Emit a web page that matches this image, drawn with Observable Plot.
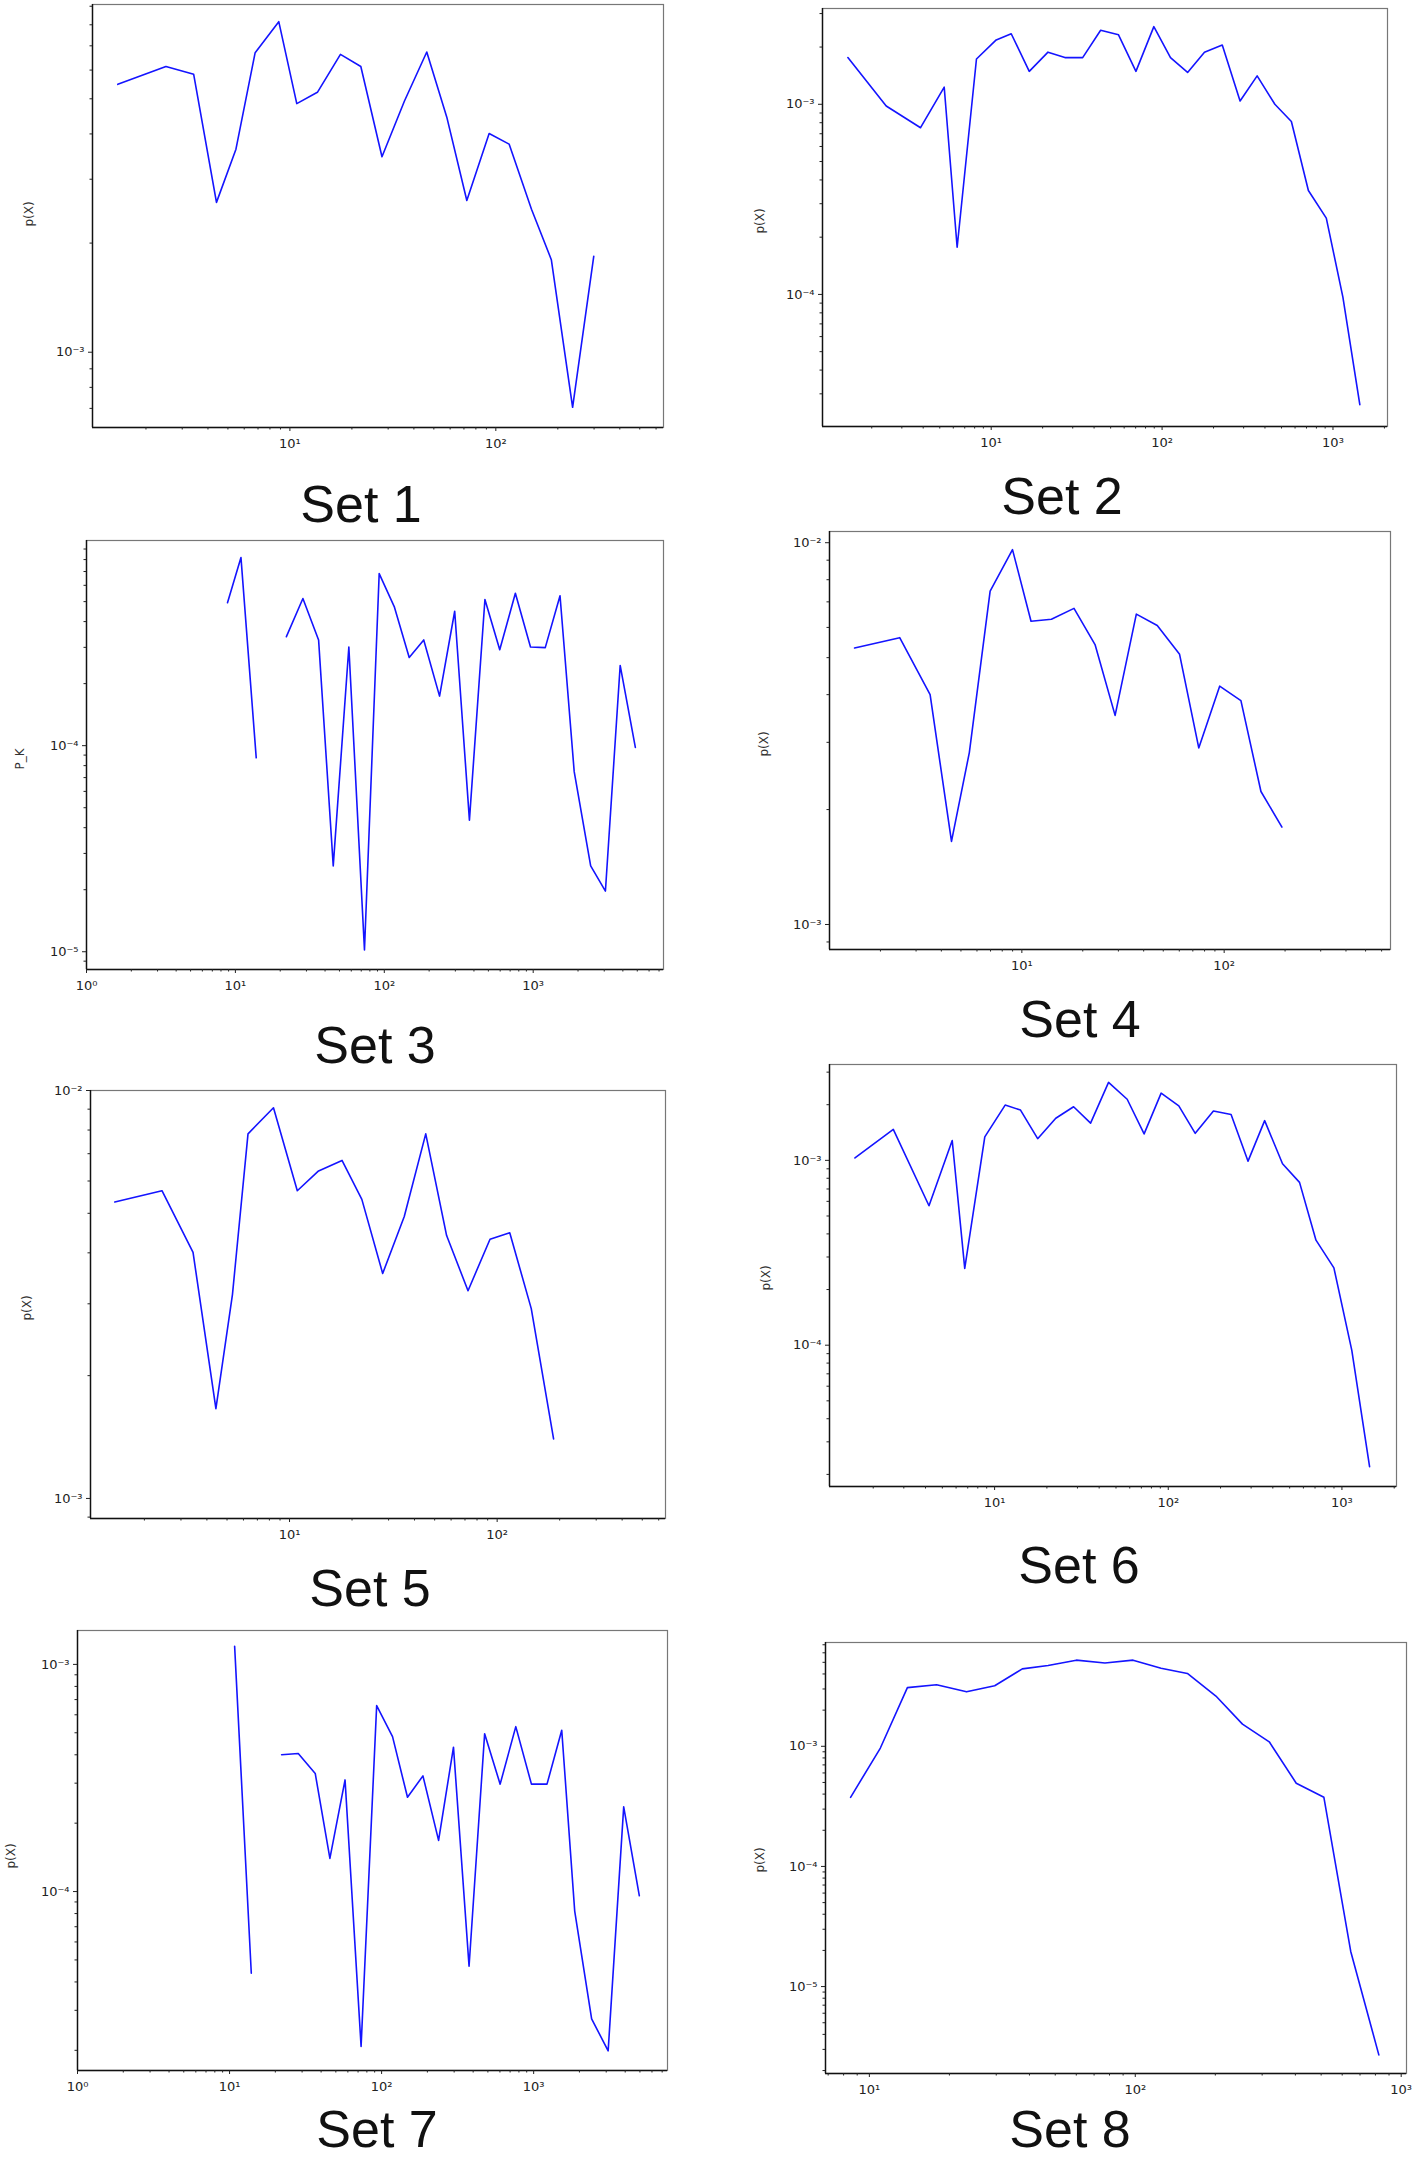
<!DOCTYPE html>
<html><head><meta charset="utf-8">
<script src="https://cdn.jsdelivr.net/npm/d3@7"></script>
<script src="https://cdn.jsdelivr.net/npm/@observablehq/plot@0.6"></script>
<style>
body{margin:0;background:#fff;}
#root{position:relative;width:1415px;height:2160px;overflow:hidden;background:#fff;}
</style></head><body><div id="root"></div>
<script>
// ---- data ----
const titles = ["Set 1","Set 2","Set 3","Set 4","Set 5","Set 6","Set 7","Set 8"];
const yLabels = ["p(X)","p(X)","P_K","p(X)","p(X)","p(X)","p(X)","p(X)"];

const set1X = [1.46,2.50,3.41,4.40,5.47,6.78,8.83,10.8,13.6,17.6,22.1,28.0,36.0,46.2,57.8,72.3,92.8,116,149,186,236,299];
const set1Y = [5.48e-3,6.14e-3,5.84e-3,2.59e-3,3.63e-3,6.70e-3,8.16e-3,4.85e-3,5.21e-3,6.63e-3,6.14e-3,3.46e-3,4.93e-3,6.73e-3,4.45e-3,2.62e-3,4.01e-3,3.75e-3,2.48e-3,1.80e-3,7.05e-4,1.84e-3];

const set2X = [1.45,2.43,3.86,5.31,6.32,8.20,10.7,13.1,16.7,21.5,27.0,34.3,43.7,55.6,70.3,89.5,112,141,177,225,286,360,457,571,718,914,1143,1436];
const set2Y = [1.76e-3,9.8e-4,7.53e-4,1.23e-3,1.77e-4,1.73e-3,2.18e-3,2.35e-3,1.49e-3,1.88e-3,1.76e-3,1.76e-3,2.45e-3,2.32e-3,1.49e-3,2.56e-3,1.76e-3,1.47e-3,1.88e-3,2.05e-3,1.04e-3,1.41e-3,1.0e-3,8.12e-4,3.52e-4,2.52e-4,9.68e-5,2.63e-5];

const set3X = [8.85,10.9,13.8,17.5,22.0,28.4,36.2,45.4,57.8,73.6,92.4,117,147,184,235,297,373,474,596,759,959,1205,1514,1885,2432,3055,3838,4853];
const set3Y = [4.94e-4,8.18e-4,8.73e-5,NaN,3.38e-4,5.18e-4,3.26e-4,2.61e-5,3.01e-4,1.02e-5,6.84e-4,4.70e-4,2.68e-4,3.26e-4,1.74e-4,4.49e-4,4.35e-5,5.12e-4,2.92e-4,5.49e-4,3.01e-4,2.99e-4,5.34e-4,7.48e-5,2.61e-5,1.97e-5,2.45e-4,9.8e-5];

const set4X = [1.49,2.49,3.52,4.49,5.50,6.97,8.99,11.1,14.0,18.1,23.0,28.9,36.8,46.7,60.2,74.9,95.0,121,152,193];
const set4Y = [5.30e-3,5.64e-3,4.00e-3,1.65e-3,2.82e-3,7.47e-3,9.59e-3,6.23e-3,6.30e-3,6.73e-3,5.41e-3,3.53e-3,6.50e-3,6.07e-3,5.10e-3,2.90e-3,4.21e-3,3.86e-3,2.23e-3,1.80e-3];

const set5X = [1.44,2.43,3.43,4.42,5.31,6.31,8.37,10.9,13.8,17.9,22.3,28.1,35.7,45.3,57.1,72.4,92.4,115,146,187];
const set5Y = [5.33e-3,5.68e-3,4.01e-3,1.66e-3,3.16e-3,7.83e-3,9.07e-3,5.68e-3,6.35e-3,6.74e-3,5.41e-3,3.56e-3,4.91e-3,7.83e-3,4.41e-3,3.23e-3,4.32e-3,4.48e-3,2.92e-3,1.40e-3];

const set6X = [1.57,2.61,4.19,5.70,6.73,8.78,11.5,14.1,17.7,22.5,28.5,35.7,45.3,58.0,72.6,91.0,115,143,182,230,288,359,455,570,709,899,1140,1443];
const set6Y = [1.03e-3,1.47e-3,5.68e-4,1.28e-3,2.60e-4,1.34e-3,1.99e-3,1.87e-3,1.31e-3,1.69e-3,1.95e-3,1.59e-3,2.64e-3,2.14e-3,1.39e-3,2.31e-3,1.97e-3,1.40e-3,1.85e-3,1.77e-3,9.9e-4,1.64e-3,9.58e-4,7.60e-4,3.70e-4,2.62e-4,9.38e-5,2.20e-5];

const set7X = [10.8,13.9,17.5,22.0,28.3,36.6,45.7,57.5,73.3,92.8,118,148,187,237,297,376,476,602,763,967,1224,1530,1862,2406,3090,3910,4955];
const set7Y = [1.20e-3,4.37e-5,NaN,4.00e-4,4.05e-4,3.31e-4,1.40e-4,3.10e-4,2.08e-5,6.59e-4,4.81e-4,2.60e-4,3.23e-4,1.68e-4,4.32e-4,4.69e-5,4.95e-4,2.97e-4,5.32e-4,2.97e-4,2.97e-4,5.13e-4,8.2e-5,2.75e-5,1.99e-5,2.36e-4,9.58e-5];

const set8X = [8.50,11.0,13.9,17.9,23.2,29.6,37.6,47.0,60.0,76.9,98.1,125,157,201,253,319,403,512,646,824];
const set8Y = [3.76e-4,9.67e-4,3.08e-3,3.25e-3,2.84e-3,3.19e-3,4.41e-3,4.71e-3,5.21e-3,4.94e-3,5.21e-3,4.47e-3,4.04e-3,2.62e-3,1.53e-3,1.09e-3,4.93e-4,3.76e-4,1.96e-5,2.70e-6];

const xsAll = [set1X,set2X,set3X,set4X,set5X,set6X,set7X,set8X];
const ysAll = [set1Y,set2Y,set3Y,set4Y,set5Y,set6Y,set7Y,set8Y];

// ---- layout (frame in page pixels, axis domains) ----
const layout = [
  {L:92,  T:4,    R:663,  B:427,  xd:[1.10,652],  yd:[6.2e-4,9.1e-3], title:[361,522],  ylab:[29,214]},
  {L:822, T:8,    R:1387, B:426,  xd:[1.03,2085], yd:[2.02e-5,3.19e-3], title:[1062,514], ylab:[760,221]},
  {L:86,  T:540,  R:663,  B:969,  xd:[1,7500],    yd:[8.2e-6,9.9e-4], title:[375,1063], ylab:[20,759]},
  {L:829, T:531,  R:1390, B:949,  xd:[1.12,664],  yd:[8.6e-4,1.07e-2], title:[1080,1037], ylab:[764,744]},
  {L:90,  T:1090, R:665,  B:1518, xd:[1.10,647],  yd:[8.93e-4,1.0e-2], title:[370,1606], ylab:[27,1308]},
  {L:829, T:1064, R:1396, B:1486, xd:[1.12,2062], yd:[1.72e-5,3.30e-3], title:[1079,1583], ylab:[766,1278]},
  {L:77,  T:1630, R:667,  B:2070, xd:[1,7590],    yd:[1.63e-5,1.41e-3], title:[377,2147], ylab:[11,1856]},
  {L:825, T:1642, R:1406, B:2073, xd:[6.84,1047], yd:[1.89e-6,7.31e-3], title:[1070,2147], ylab:[760,1860]}
];

const SUP = {"0":"⁰","1":"¹","2":"²","3":"³","4":"⁴","5":"⁵","6":"⁶","7":"⁷","8":"⁸","9":"⁹","-":"⁻"};
const fmt = d => "10" + String(Math.round(Math.log10(d))).split("").map(c => SUP[c]).join("");
function majors([lo, hi]) {
  const out = [];
  for (let e = Math.ceil(Math.log10(lo) - 1e-9); e <= Math.floor(Math.log10(hi) + 1e-9); e++) out.push(Math.pow(10, e));
  return out;
}
function minors([lo, hi]) {
  const out = [];
  for (let e = Math.floor(Math.log10(lo)); e <= Math.ceil(Math.log10(hi)); e++)
    for (let k = 2; k <= 9; k++) { const v = k * Math.pow(10, e); if (v >= lo && v <= hi) out.push(v); }
  return out;
}

const root = document.getElementById("root");
layout.forEach((p, i) => {
  const ml = 50, mr = 10, mt = Math.min(8, p.T), mb = 34;
  const data = xsAll[i].map((x, j) => ({x, y: ysAll[i][j]}));
  const axisCommon = {label: null, color: "#222", fontSize: 13};
  const chart = Plot.plot({
    width: p.R - p.L + ml + mr,
    height: p.B - p.T + mt + mb,
    marginLeft: ml, marginRight: mr, marginTop: mt, marginBottom: mb,
    x: {type: "log", domain: p.xd},
    y: {type: "log", domain: p.yd},
    style: {background: "transparent", overflow: "visible", fontFamily: "'DejaVu Sans', sans-serif"},
    marks: [
      Plot.frame({stroke: "#777", strokeWidth: 1.2}),
      Plot.ruleX([p.xd[0]], {stroke: "#111", strokeWidth: 1.4}),
      Plot.ruleY([p.yd[0]], {stroke: "#111", strokeWidth: 1.4}),
      Plot.axisX({...axisCommon, ticks: minors(p.xd), tickSize: 2.5, tickFormat: () => ""}),
      Plot.axisX({...axisCommon, ticks: majors(p.xd), tickSize: 4, tickPadding: 7, tickFormat: fmt}),
      Plot.axisY({...axisCommon, ticks: minors(p.yd), tickSize: 2.5, tickFormat: () => ""}),
      Plot.axisY({...axisCommon, ticks: majors(p.yd), tickSize: 4, tickPadding: 4, tickFormat: fmt}),
      Plot.line(data, {x: "x", y: "y", stroke: "#1414ff", strokeWidth: 1.6})
    ]
  });
  chart.style.position = "absolute";
  chart.style.left = (p.L - ml) + "px";
  chart.style.top = (p.T - mt) + "px";
  root.append(chart);
});

// titles and y-axis labels as an overlay
const overlay = d3.select(root).append("svg")
  .attr("width", 1415).attr("height", 2160)
  .style("position", "absolute").style("left", "0px").style("top", "0px")
  .style("pointer-events", "none");
layout.forEach((p, i) => {
  overlay.append("text")
    .attr("x", p.title[0]).attr("y", p.title[1])
    .attr("text-anchor", "middle")
    .attr("font-family", "'Liberation Sans', Arial, sans-serif")
    .attr("font-size", 52).attr("fill", "#111")
    .text(titles[i]);
  overlay.append("text")
    .attr("transform", `translate(${p.ylab[0]},${p.ylab[1]}) rotate(-90)`)
    .attr("text-anchor", "middle").attr("dy", "0.35em")
    .attr("font-family", "'DejaVu Sans', sans-serif")
    .attr("font-size", 12).attr("fill", "#333")
    .text(yLabels[i]);
});
</script></body></html>
